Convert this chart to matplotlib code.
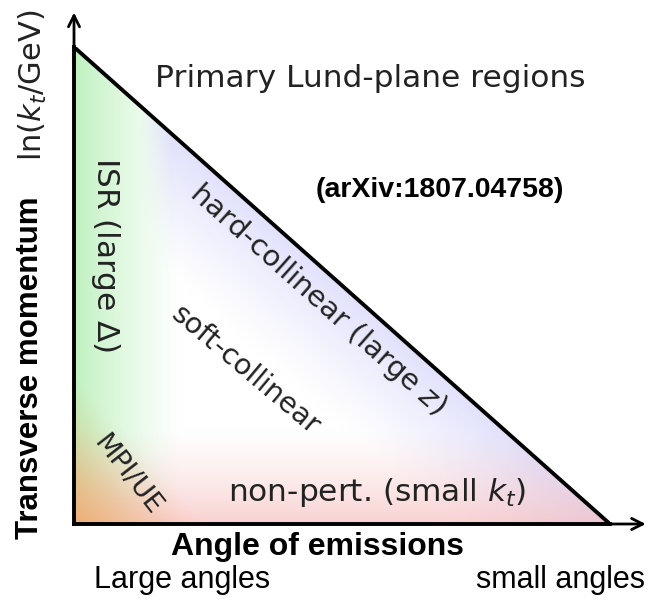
import numpy as np
import matplotlib.pyplot as plt

# triangle of the Lund plane (angle, ln kt), both scaled to 0..1
tri_x = [0.0, 0.0, 1.0]
tri_y = [1.0, 0.0, 0.0]

title = 'Primary Lund-plane regions'
ref = '(arXiv:1807.04758)'
regions = ['ISR (large $\\Delta$)', 'hard-collinear (large $z$)', 'soft-collinear',
           'MPI/UE', 'non-pert. (small $k_t$)']

# tints of each region (RGB 0..1)
green = np.array([150, 232, 150]) / 255
blue = np.array([205, 205, 250]) / 255
red = np.array([245, 180, 180]) / 255
orange = np.array([245, 165, 95]) / 255

fig = plt.figure(figsize=(6.54, 6.0), dpi=100)
ax = fig.add_axes([74 / 654, 76 / 600, 536 / 654, 477 / 600])
ax.set_xlim(0, 1)
ax.set_ylim(0, 1)
ax.axis('off')

# shaded regions, built as an rgba image over the triangle
n = 400
gx, gy = np.meshgrid(np.linspace(0, 1, n), np.linspace(0, 1, n))
img = np.ones((n, n, 3))


def blend(img, col, a):
    a = np.clip(a, 0, 1)[..., None]
    return img * (1 - a) + col * a


dh = 1 - gx - gy
img = blend(img, green, 0.6 * np.clip(1 - gx / 0.2, 0, 1) ** 1.2)
img = blend(img, blue, 0.6 * np.clip(1 - dh / 0.3, 0, 1) ** 1.2 * np.clip((gx - 0.12) / 0.06, 0, 1))
img = blend(img, red, 0.6 * np.clip(1 - gy / 0.2, 0, 1) ** 1.3)
img = blend(img, orange, 0.75 * np.clip(1 - (gx + 0.8 * gy) / 0.25, 0, 1) ** 1.2)
im = ax.imshow(img, origin='lower', extent=(0, 1, 0, 1), aspect='auto', interpolation='bilinear')
tri = plt.Polygon(np.column_stack([tri_x, tri_y]), closed=True, transform=ax.transData)
im.set_clip_path(tri)

# hypotenuse and axes
ax.plot([tri_x[0], tri_x[2]], [tri_y[0], tri_y[2]], color='black', lw=2.8, solid_capstyle='round')
ax.plot([tri_x[1], tri_x[2]], [tri_y[1], tri_y[2]], color='black', lw=2.8, clip_on=False)
ax.plot([tri_x[1], tri_x[0]], [tri_y[1], tri_y[0]], color='black', lw=2.8, clip_on=False)
ax.annotate('', xy=(0, 1.078), xytext=(0, 0.98), annotation_clip=False,
            arrowprops=dict(arrowstyle='->', lw=2, color='black', mutation_scale=20))
ax.annotate('', xy=(1.072, 0), xytext=(0.98, 0), annotation_clip=False,
            arrowprops=dict(arrowstyle='->', lw=2, color='black', mutation_scale=20))

txt = '#222222'
ax.text(0.552, 0.935, title, fontsize=22.5, color=txt, ha='center', va='center')
ax.text(0.683, 0.700, ref, fontsize=20.5, fontweight='bold', family='Liberation Sans',
        ha='center', va='center')

ang = -np.degrees(np.arctan(477 / 536))
ax.text(0.058, 0.564, regions[0], fontsize=22.5, color=txt, rotation=-90, ha='center', va='center')
ax.text(0.455, 0.470, regions[1], fontsize=21, color=txt, rotation=ang, ha='center', va='center',
        rotation_mode='anchor')
ax.text(0.319, 0.322, regions[2], fontsize=20.5, color=txt, rotation=-40, ha='center', va='center',
        rotation_mode='anchor')
ax.text(0.099, 0.103, regions[3], fontsize=19.5, color=txt, rotation=-52, ha='center', va='center',
        rotation_mode='anchor')
ax.text(0.565, 0.067, regions[4], fontsize=22.5, color=txt, ha='center', va='center')

fig.text(0.050, 0.858, 'ln($k_t$/GeV)', fontsize=22, color=txt, rotation=90, ha='center', va='center')
fig.text(0.046, 0.388, 'Transverse momentum', fontsize=22.5, fontweight='bold', family='Liberation Sans',
         rotation=90, ha='center', va='center')
fig.text(0.486, 0.088, 'Angle of emissions', fontsize=23, fontweight='bold', family='Liberation Sans',
         ha='center', va='center')
fig.text(0.278, 0.033, 'Large angles', fontsize=22, family='Liberation Sans', ha='center', va='center')
fig.text(0.857, 0.033, 'small angles', fontsize=22, family='Liberation Sans', ha='center', va='center')

fig.savefig('out.png', dpi=100)
